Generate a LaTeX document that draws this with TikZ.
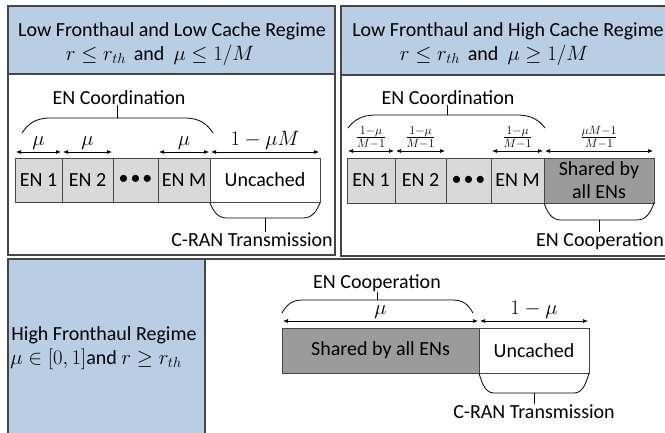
\documentclass[tikz,border=0pt]{standalone}
\usepackage{fontspec}
\setmainfont{Carlito}
\usetikzlibrary{arrows.meta}

\definecolor{hdrblue}{RGB}{185,205,229}
\definecolor{enfill}{RGB}{217,217,217}
\definecolor{sharefill}{RGB}{155,155,155}
\definecolor{rim}{RGB}{70,70,70}

\tikzset{
  panel/.style={draw=rim, line width=1.1pt},
  cell/.style={draw=rim, line width=0.9pt, fill=enfill, minimum height=44pt, inner sep=0pt, outer sep=0pt},
  shared/.style={cell, fill=sharefill},
  blank/.style={cell, fill=white},
  span/.style={{Latex[length=5pt,width=4pt]}-{Latex[length=5pt,width=4pt]}, line width=0.7pt, shorten <=1pt, shorten >=1pt},
  lbl/.style={above, inner sep=2pt},
  frac/.style={lbl, font=\fontsize{17}{20}\selectfont},
  tag/.style={anchor=base, inner sep=0.5pt},
  hook line/.style={line width=0.8pt},
}
% x1, x2, y at the two ends, y of the flat part, corner width
\newcommand{\capbrace}[5]{%
  \draw[hook line] (#1,#3) .. controls ({#1+0.2*#5},{#4+0.45*(#3-#4)}) and ({#1+0.45*#5},#4) .. ({#1+#5},#4)
    -- ({#2-#5},#4) .. controls ({#2-0.45*#5},#4) and ({#2-0.2*#5},{#4+0.45*(#3-#4)}) .. (#2,#3);}
\newcommand{\dotsrow}{\textbullet\hspace{2pt}\textbullet\hspace{2pt}\textbullet}

\begin{document}
\begin{tikzpicture}[x=1pt, y=-1pt, every node/.style={font=\fontsize{20}{23}\selectfont}]
  \useasboundingbox (0,0) rectangle (665,432);

  % panels
  \draw[panel, fill=hdrblue] (8,6) rectangle (335,74);
  \draw[panel] (8,74) rectangle (335,255);
  \draw[panel, fill=hdrblue] (341,6) rectangle (672,75);
  \draw[panel] (341,75) rectangle (672,256);
  \draw[panel] (8,259) rectangle (672,440);
  \draw[panel, fill=hdrblue] (8,259) rectangle (205,440);

  % low fronthaul, low cache
  \node[tag] (hdrLa) at (172,36) {Low Fronthaul and Low Cache Regime};
  \node[tag] (hdrLb) at (160,60.5) {$r \le r_{th}$ \,and \ $\mu \le 1/M$};
  \node[cell, minimum width=47pt] (l1) at (38.5,180) {EN 1};
  \node[cell, minimum width=51pt] (l2) at (87.5,180) {EN 2};
  \node[cell, minimum width=45pt] (l3) at (135.5,180) {\dotsrow};
  \node[cell, minimum width=52pt] (l4) at (184,180) {EN M};
  \node[blank, minimum width=110pt] (l5) at (265,180) {Uncached};
  \path[span] ([yshift=6pt]l1.north west) edge node[lbl] {$\mu$} ([yshift=6pt]l1.north east);
  \path[span] ([yshift=6pt]l2.north west) edge node[lbl] {$\mu$} ([yshift=6pt]l2.north east);
  \path[span] ([yshift=6pt]l4.north west) edge node[lbl] {$\mu$} ([yshift=6pt]l4.north east);
  \path[span] ([yshift=6pt]l5.north west) edge node[lbl] {$1-\mu M$} ([yshift=6pt]l5.north east);
  \node[tag] (coordL) at (119,104) {EN Coordination};
  \capbrace{22}{213}{133}{118}{28}
  \coordinate (coordLtip) at (117,118);
  \draw[hook line] (coordLtip) -- (coordLtip |- coordL.south);
  \node[tag] (cranL) at (252,246.5) {C-RAN Transmission};
  \capbrace{210}{320}{203}{218}{17}
  \coordinate (cranLtip) at (265,218);
  \draw[hook line] (cranLtip) -- (cranLtip |- cranL.north);

  % low fronthaul, high cache
  \node[tag] (hdrRa) at (508,36) {Low Fronthaul and High Cache Regime};
  \node[tag] (hdrRb) at (494,60.5) {$r \le r_{th}$ \,and \ $\mu \ge 1/M$};
  \node[cell, minimum width=48pt, minimum height=45pt] (r1) at (371,180.5) {EN 1};
  \node[cell, minimum width=51pt, minimum height=45pt] (r2) at (420.5,180.5) {EN 2};
  \node[cell, minimum width=45pt, minimum height=45pt] (r3) at (468.5,180.5) {\dotsrow};
  \node[cell, minimum width=53pt, minimum height=45pt] (r4) at (517.5,180.5) {EN M};
  \node[shared, minimum width=110pt, minimum height=45pt, align=center] (r5) at (599,180.5) {Shared by\\all ENs};
  \path[span] ([yshift=7pt]r1.north west) edge node[frac] {$\frac{1-\mu}{M-1}$} ([yshift=7pt]r1.north east);
  \path[span] ([yshift=7pt]r2.north west) edge node[frac] {$\frac{1-\mu}{M-1}$} ([yshift=7pt]r2.north east);
  \path[span] ([yshift=7pt]r4.north west) edge node[frac] {$\frac{1-\mu}{M-1}$} ([yshift=7pt]r4.north east);
  \path[span] ([yshift=7pt]r5.north west) edge node[frac] {$\frac{\mu M-1}{M-1}$} ([yshift=7pt]r5.north east);
  \node[tag] (coordR) at (448,104) {EN Coordination};
  \capbrace{348}{545}{128}{115}{28}
  \coordinate (coordRtip) at (447,115);
  \draw[hook line] (coordRtip) -- (coordRtip |- coordR.south);
  \node[tag] (coopR) at (600,246.5) {EN Cooperation};
  \capbrace{544}{654}{203}{220}{17}
  \coordinate (coopRtip) at (599,220);
  \draw[hook line] (coopRtip) -- (coopRtip |- coopR.north);

  % high fronthaul
  \node[tag] (fhA) at (104,340) {High Fronthaul Regime};
  \node[tag] (fhB) at (96,364.5) {$\mu \in [0,1]$and $r \ge r_{th}$};
  \node[shared, minimum width=197pt, minimum height=45pt] (b1) at (380.5,350.5) {Shared by all ENs};
  \node[blank, minimum width=110pt, minimum height=45pt] (b2) at (534,350.5) {Uncached};
  \path[span] ([yshift=7pt]b1.north west) edge node[lbl] {$\mu$} ([yshift=7pt]b1.north east);
  \path[span] ([yshift=7pt]b2.north west) edge node[lbl] {$1-\mu$} ([yshift=7pt]b2.north east);
  \node[tag] (coopB) at (377,288.5) {EN Cooperation};
  \capbrace{282}{473}{313}{300}{20}
  \coordinate (coopBtip) at (377,300);
  \draw[hook line] (coopBtip) -- (coopBtip |- coopB.south);
  \node[tag] (cranB) at (534,418.5) {C-RAN Transmission};
  \capbrace{479}{589}{373}{393}{15}
  \coordinate (cranBtip) at (534,393);
  \draw[hook line] (cranBtip) -- (cranBtip |- cranB.north);
\end{tikzpicture}
\end{document}
